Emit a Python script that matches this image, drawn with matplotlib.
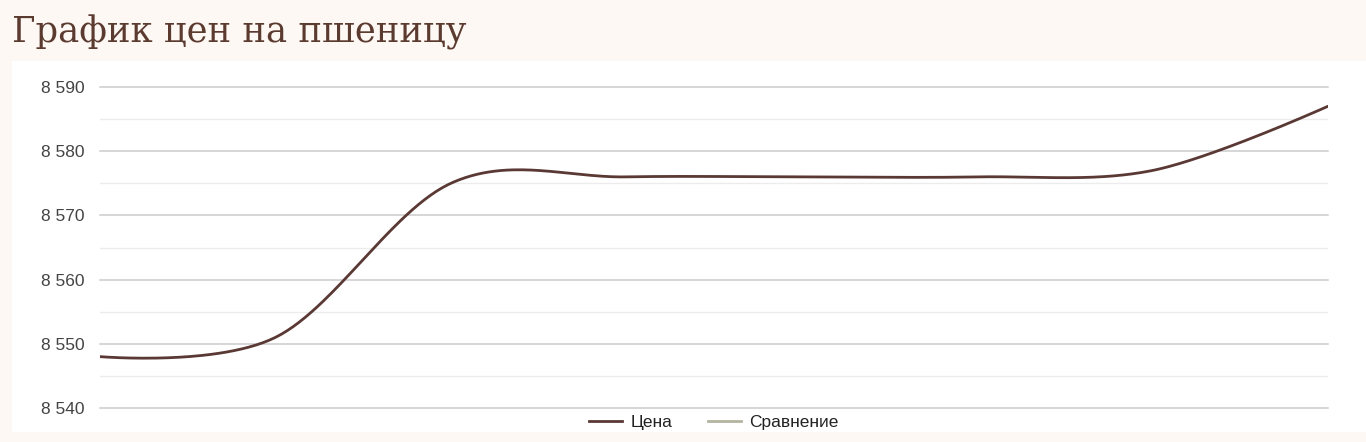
"""
Wheat price chart (График цен на пшеницу) - smooth line, Google-Charts look
"""

import numpy as np
import matplotlib
matplotlib.use('Agg')
import matplotlib.pyplot as plt
from matplotlib.lines import Line2D
from matplotlib.patches import Rectangle
from matplotlib.ticker import FuncFormatter, FixedLocator

# ------------------------------------------------------------------
# Data
# ------------------------------------------------------------------
title = 'График цен на пшеницу'
series_names = ['Цена', 'Сравнение']
day_index = [0, 1, 2, 3, 4, 5, 6, 7]
prices = [8548, 8551, 8575, 8576, 8576, 8576, 8577, 8587]
y_ticks = [8540, 8550, 8560, 8570, 8580, 8590]
y_minor = [8545, 8555, 8565, 8575, 8585]

# ------------------------------------------------------------------
# Colours
# ------------------------------------------------------------------
bg_page = '#fdf8f3'
title_color = '#5b3a30'
price_color = '#5a3935'
compare_color = '#b3b5a0'
tick_color = '#444444'


def smooth_path(xs, ys, n=60):
    """Bezier curve through the points, control points from neighbours
    (same idea as curveType 'function'); end control points sit on the ends."""
    xs = np.asarray(xs, float)
    ys = np.asarray(ys, float)
    k = len(xs)
    out_x, out_y = [], []
    t = np.linspace(0, 1, n)
    for i in range(k - 1):
        p0 = np.array([xs[i], ys[i]])
        p3 = np.array([xs[i + 1], ys[i + 1]])
        if i == 0:
            p1 = p0
        else:
            p1 = p0 + (np.array([xs[i + 1], ys[i + 1]]) - np.array([xs[i - 1], ys[i - 1]])) / 6
        if i + 2 >= k:
            p2 = p3
        else:
            p2 = p3 - (np.array([xs[i + 2], ys[i + 2]]) - np.array([xs[i], ys[i]])) / 6
        b = ((1 - t) ** 3)[:, None] * p0 + (3 * (1 - t) ** 2 * t)[:, None] * p1 \
            + (3 * (1 - t) * t ** 2)[:, None] * p2 + (t ** 3)[:, None] * p3
        out_x.extend(b[:, 0])
        out_y.extend(b[:, 1])
    return out_x, out_y


fig = plt.figure(figsize=(13.66, 4.42), dpi=100)
fig.patch.set_facecolor(bg_page)

# white chart panel (behind the axes)
panel = fig.add_axes([12 / 1366, 1 - 432 / 442, 1 - 12 / 1366, (432 - 61) / 442], zorder=-1)
panel.axis('off')
panel.add_patch(Rectangle((0, 0), 1, 1, transform=panel.transAxes,
                          facecolor='white', edgecolor='none'))

fig.text(12 / 1366, 1 - 32 / 442, title, fontsize=25.5, color=title_color,
         family='DejaVu Serif', va='center', ha='left')

ax = fig.add_axes([100 / 1366, 1 - 408 / 442, (1328 - 100) / 1366, (408 - 87) / 442])
ax.set_facecolor('white')

sx, sy = smooth_path(day_index, prices)
ax.plot(sx, sy, color=price_color, lw=2, solid_capstyle='round', zorder=3)

ax.set_xlim(day_index[0], day_index[-1])
ax.set_ylim(y_ticks[0], y_ticks[-1])
ax.set_yticks(y_ticks)
ax.yaxis.set_minor_locator(FixedLocator(y_minor))
ax.yaxis.set_major_formatter(FuncFormatter(lambda v, p: f'{int(v):,}'.replace(',', ' ')))
ax.set_xticks([])
ax.grid(axis='y', which='minor', color='#ececec', lw=1, zorder=0)
ax.grid(axis='y', which='major', color='#cccccc', lw=1.1, zorder=1)
for gl in ax.get_ygridlines():
    gl.set_clip_on(False)
ax.tick_params(axis='y', which='both', length=0, pad=11, labelsize=12.5,
               labelcolor=tick_color)
for lbl in ax.get_yticklabels():
    lbl.set_family('Liberation Sans')
for s in ax.spines.values():
    s.set_visible(False)

handles = [Line2D([], [], color=price_color, lw=2),
           Line2D([], [], color=compare_color, lw=2)]
leg = fig.legend(handles, series_names, loc='center', bbox_to_anchor=(714 / 1366, 1 - 422 / 442),
                 ncol=2, frameon=False, handlelength=1.9, handletextpad=0.5, columnspacing=2.0,
                 prop={'family': 'Liberation Sans', 'size': 12.5})
for t in leg.get_texts():
    t.set_color('#222222')

plt.savefig('out.png', dpi=100, facecolor=fig.get_facecolor())
